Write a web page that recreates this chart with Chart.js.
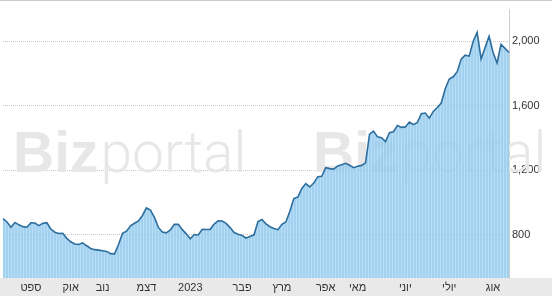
<!DOCTYPE html>
<html>
<head>
<meta charset="utf-8">
<script src="https://cdn.jsdelivr.net/npm/chart.js@4/dist/chart.umd.min.js"></script>
<style>
  html, body { margin: 0; padding: 0; background: #fff; }
  canvas { display: block; }
</style>
</head>
<body>
<canvas id="chart" width="552" height="296"></canvas>
<script>
// daily closing values, Aug 2022 -> Aug 2023
const values = [
  898, 878, 845, 875, 860, 849, 845, 872, 871, 855,
  869, 873, 834, 814, 806, 807, 776, 755, 741, 738,
  748, 730, 713, 706, 703, 699, 695, 681, 680, 738,
  808, 821, 854, 870, 884, 918, 965, 952, 906, 844,
  815, 810, 828, 863, 863, 830, 804, 773, 800, 797,
  832, 831, 832, 865, 885, 884, 869, 843, 812, 802,
  794, 778, 788, 798, 881, 893, 866, 848, 837, 830,
  863, 878, 944, 1023, 1032, 1086, 1116, 1095, 1119, 1159,
  1161, 1215, 1209, 1206, 1226, 1233, 1242, 1230, 1215, 1224,
  1229, 1245, 1423, 1442, 1406, 1401, 1377, 1432, 1438, 1477,
  1465, 1468, 1498, 1482, 1495, 1550, 1554, 1522, 1564, 1588,
  1616, 1705, 1765, 1779, 1811, 1889, 1913, 1907, 1998, 2055,
  1890, 1960, 2030, 1930, 1865, 1980, 1955, 1930
];

// where each month starts (index into values) and its label
const monthIndex = [7, 17, 25, 36, 47, 60, 70, 81, 89, 101, 112, 123];
const monthLabels = ['ספט', 'אוק', 'נוב', 'דצמ', '2023', 'פבר', 'מרץ', 'אפר', 'מאי', 'יוני', 'יולי', 'אוג'];

const yTicks = [800, 1200, 1600, 2000];

const labels = values.map((v, i) => i);

// striped fill like the original
function stripePattern() {
  const c = document.createElement('canvas');
  c.width = 3;
  c.height = 1;
  const g = c.getContext('2d');
  g.fillStyle = 'rgba(146, 202, 236, 0.85)';
  g.fillRect(0, 0, 2, 1);
  g.fillStyle = 'rgba(172, 215, 242, 0.85)';
  g.fillRect(2, 0, 1, 1);
  return document.getElementById('chart').getContext('2d').createPattern(c, 'repeat');
}

const backdrop = {
  id: 'backdrop',
  beforeDraw(chart) {
    const { ctx, width, height, chartArea } = chart;
    ctx.save();
    ctx.fillStyle = '#e9e9e9';
    ctx.fillRect(0, chartArea.bottom, width, height - chartArea.bottom);
    ctx.fillStyle = '#cacaca';
    ctx.fillRect(0, 0, width, 1);
    ctx.restore();
  },
  beforeDatasetsDraw(chart) {
    const ctx = chart.ctx;
    ctx.save();
    ctx.fillStyle = '#e7e7e7';
    ctx.textBaseline = 'alphabetic';
    [13, 313].forEach(x => {
      ctx.font = 'bold 57px "Liberation Sans", Arial, sans-serif';
      ctx.fillText('Biz', x, 172);
      const w = ctx.measureText('Biz').width;
      ctx.font = '300 57px Roboto, "Open Sans", sans-serif';
      ctx.fillText('portal', x + w + 2, 172);
    });
    ctx.restore();
  }
};

new Chart(document.getElementById('chart'), {
  type: 'line',
  data: {
    labels: labels,
    datasets: [{
      data: values,
      borderColor: '#2d6e9e',
      borderWidth: 1.6,
      backgroundColor: stripePattern(),
      fill: 'start',
      pointRadius: 0,
      tension: 0
    }]
  },
  options: {
    responsive: false,
    animation: false,
    layout: { padding: { top: 1, left: 0, right: 0, bottom: 0 } },
    plugins: {
      legend: { display: false },
      tooltip: { enabled: false }
    },
    scales: {
      x: {
        type: 'category',
        offset: false,
        grid: { display: false, drawTicks: false },
        border: { display: false },
        afterFit(scale) { scale.height = 18; },
        ticks: {
          autoSkip: false,
          maxRotation: 0,
          padding: 3,
          color: '#333',
          font: { family: 'Arial, "Liberation Sans"', size: 11 },
          callback(val, idx) {
            const k = monthIndex.indexOf(idx);
            return k >= 0 ? monthLabels[k] : '';
          }
        }
      },
      y: {
        position: 'right',
        min: 530,
        max: 2196,
        afterFit(scale) { scale.width = 43; },
        afterBuildTicks(scale) {
          scale.ticks = yTicks.map(v => ({ value: v }));
        },
        grid: { color: '#c8c8c8', drawTicks: false },
        border: { display: true, color: '#cccccc', dash: [1, 1] },
        ticks: {
          padding: 3,
          color: '#333',
          font: { family: 'Arial, "Liberation Sans"', size: 11 },
          callback: v => v.toLocaleString('en-US')
        }
      }
    }
  },
  plugins: [backdrop]
});
</script>
</body>
</html>
